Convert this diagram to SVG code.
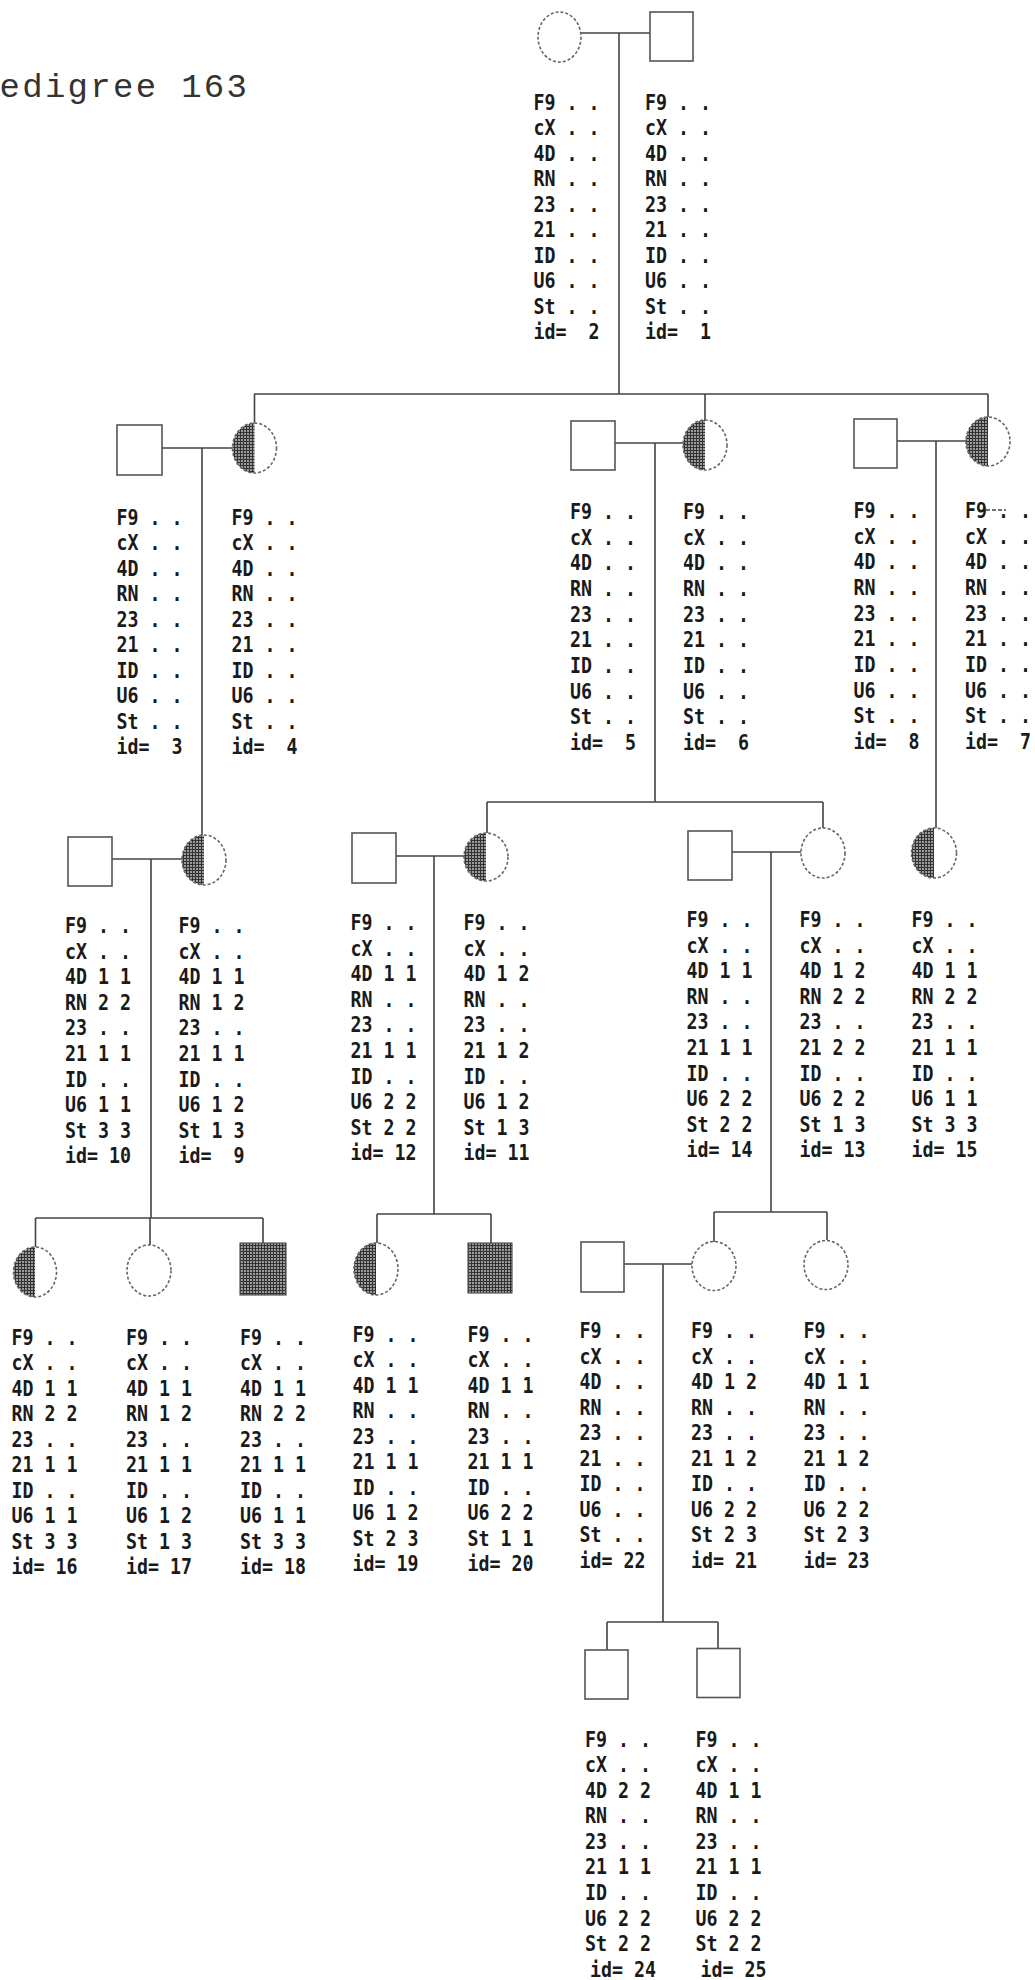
<svg xmlns="http://www.w3.org/2000/svg" width="1035" height="1980" viewBox="0 0 1035 1980">
<defs>
<pattern id="hatch" width="3" height="3" patternUnits="userSpaceOnUse">
<rect width="3" height="3" fill="#9a9a9a"/>
<path d="M0 0.5H3M0.5 0V3" stroke="#333" stroke-width="1"/>
</pattern>
</defs>
<style>
.lb { font-family: "DejaVu Sans Mono", "Liberation Mono", monospace; font-size: 18.3px; font-weight: bold; fill: #1a1a1a; }
.ttl { font-family: "Liberation Mono", "DejaVu Sans Mono", monospace; font-size: 34px; letter-spacing: 2.3px; fill: #333; }
.sq { fill: none; stroke: #555; stroke-width: 1.6; }
.sqf { fill: url(#hatch); stroke: #555; stroke-width: 1.2; }
.ci { fill: none; stroke: #666; stroke-width: 1.6; stroke-dasharray: 3 2; }
.hf { fill: url(#hatch); stroke: none; }
.cn path { stroke: #444; stroke-width: 1.6; fill: none; }
</style>
<rect width="1035" height="1980" fill="#fff"/>
<text class="ttl" x="-0.5" y="96.5">edigree 163</text>

<g id="connectors" class="cn">
<path d="M581 33H650M619 33V394"/>
<path d="M254 394H988M254.5 394V423M705 394V420M988 394V417"/>
<path d="M162 448H232.5M202 448V835"/>
<path d="M615 443H683M655 443V802"/>
<path d="M897 441H966M936 441V828"/>
<path d="M112 859H182M151 859V1218"/>
<path d="M487 802H823M487 802V833M823 802V828"/>
<path d="M396 856H464M434 856V1214"/>
<path d="M732 852H801M771 852V1212"/>
<path d="M35.5 1218H263M35.5 1218V1247M150 1218V1245M263 1218V1243"/>
<path d="M377 1214H491M377 1214V1243M491 1214V1243"/>
<path d="M714 1212H827M714 1212V1242M827 1212V1240"/>
<path d="M624 1264H692M663 1264V1622"/>
<path d="M607 1622H718M607 1622V1650M718 1622V1648.5"/>
</g>

<g id="n2"><ellipse class="ci" cx="559.5" cy="37" rx="21.5" ry="25"/>
<text class="lb" xml:space="preserve" transform="translate(533.5,110) scale(1,1.15)"><tspan x="0" y="0">F9 . .</tspan><tspan x="0" dy="22.17">cX . .</tspan><tspan x="0" dy="22.17">4D . .</tspan><tspan x="0" dy="22.17">RN . .</tspan><tspan x="0" dy="22.17">23 . .</tspan><tspan x="0" dy="22.17">21 . .</tspan><tspan x="0" dy="22.17">ID . .</tspan><tspan x="0" dy="22.17">U6 . .</tspan><tspan x="0" dy="22.17">St . .</tspan><tspan x="0" dy="22.17">id=  2</tspan></text></g>

<g id="n1"><rect class="sq" x="650" y="12" width="43" height="49"/>
<text class="lb" xml:space="preserve" transform="translate(645,110) scale(1,1.15)"><tspan x="0" y="0">F9 . .</tspan><tspan x="0" dy="22.17">cX . .</tspan><tspan x="0" dy="22.17">4D . .</tspan><tspan x="0" dy="22.17">RN . .</tspan><tspan x="0" dy="22.17">23 . .</tspan><tspan x="0" dy="22.17">21 . .</tspan><tspan x="0" dy="22.17">ID . .</tspan><tspan x="0" dy="22.17">U6 . .</tspan><tspan x="0" dy="22.17">St . .</tspan><tspan x="0" dy="22.17">id=  1</tspan></text></g>

<g id="n3"><rect class="sq" x="117" y="425" width="45" height="50"/>
<text class="lb" xml:space="preserve" transform="translate(116.5,525) scale(1,1.15)"><tspan x="0" y="0">F9 . .</tspan><tspan x="0" dy="22.17">cX . .</tspan><tspan x="0" dy="22.17">4D . .</tspan><tspan x="0" dy="22.17">RN . .</tspan><tspan x="0" dy="22.17">23 . .</tspan><tspan x="0" dy="22.17">21 . .</tspan><tspan x="0" dy="22.17">ID . .</tspan><tspan x="0" dy="22.17">U6 . .</tspan><tspan x="0" dy="22.17">St . .</tspan><tspan x="0" dy="22.17">id=  3</tspan></text></g>

<g id="n4"><path class="hf" d="M254.5 423A22 25 0 0 0 254.5 473Z"/><ellipse class="ci" cx="254.5" cy="448" rx="22" ry="25"/>
<text class="lb" xml:space="preserve" transform="translate(231.5,525) scale(1,1.15)"><tspan x="0" y="0">F9 . .</tspan><tspan x="0" dy="22.17">cX . .</tspan><tspan x="0" dy="22.17">4D . .</tspan><tspan x="0" dy="22.17">RN . .</tspan><tspan x="0" dy="22.17">23 . .</tspan><tspan x="0" dy="22.17">21 . .</tspan><tspan x="0" dy="22.17">ID . .</tspan><tspan x="0" dy="22.17">U6 . .</tspan><tspan x="0" dy="22.17">St . .</tspan><tspan x="0" dy="22.17">id=  4</tspan></text></g>

<g id="n5"><rect class="sq" x="571" y="421" width="44" height="49"/>
<text class="lb" xml:space="preserve" transform="translate(570,519) scale(1,1.15)"><tspan x="0" y="0">F9 . .</tspan><tspan x="0" dy="22.3">cX . .</tspan><tspan x="0" dy="22.3">4D . .</tspan><tspan x="0" dy="22.3">RN . .</tspan><tspan x="0" dy="22.3">23 . .</tspan><tspan x="0" dy="22.3">21 . .</tspan><tspan x="0" dy="22.3">ID . .</tspan><tspan x="0" dy="22.3">U6 . .</tspan><tspan x="0" dy="22.3">St . .</tspan><tspan x="0" dy="22.3">id=  5</tspan></text></g>

<g id="n6"><path class="hf" d="M705 420A22 25 0 0 0 705 470Z"/><ellipse class="ci" cx="705" cy="445" rx="22" ry="25"/>
<text class="lb" xml:space="preserve" transform="translate(683,519) scale(1,1.15)"><tspan x="0" y="0">F9 . .</tspan><tspan x="0" dy="22.3">cX . .</tspan><tspan x="0" dy="22.3">4D . .</tspan><tspan x="0" dy="22.3">RN . .</tspan><tspan x="0" dy="22.3">23 . .</tspan><tspan x="0" dy="22.3">21 . .</tspan><tspan x="0" dy="22.3">ID . .</tspan><tspan x="0" dy="22.3">U6 . .</tspan><tspan x="0" dy="22.3">St . .</tspan><tspan x="0" dy="22.3">id=  6</tspan></text></g>

<g id="n8"><rect class="sq" x="854" y="419" width="43" height="49"/>
<text class="lb" xml:space="preserve" transform="translate(853.5,518) scale(1,1.15)"><tspan x="0" y="0">F9 . .</tspan><tspan x="0" dy="22.3">cX . .</tspan><tspan x="0" dy="22.3">4D . .</tspan><tspan x="0" dy="22.3">RN . .</tspan><tspan x="0" dy="22.3">23 . .</tspan><tspan x="0" dy="22.3">21 . .</tspan><tspan x="0" dy="22.3">ID . .</tspan><tspan x="0" dy="22.3">U6 . .</tspan><tspan x="0" dy="22.3">St . .</tspan><tspan x="0" dy="22.3">id=  8</tspan></text></g>

<g id="n7"><path class="hf" d="M988 417A22 24.5 0 0 0 988 466Z"/><ellipse class="ci" cx="988" cy="441.5" rx="22" ry="24.5"/>
<path d="M986 510H1006" stroke="#444" stroke-width="1.5" stroke-dasharray="4 2"/>
<text class="lb" xml:space="preserve" transform="translate(965,518) scale(1,1.15)"><tspan x="0" y="0">F9 . .</tspan><tspan x="0" dy="22.3">cX . .</tspan><tspan x="0" dy="22.3">4D . .</tspan><tspan x="0" dy="22.3">RN . .</tspan><tspan x="0" dy="22.3">23 . .</tspan><tspan x="0" dy="22.3">21 . .</tspan><tspan x="0" dy="22.3">ID . .</tspan><tspan x="0" dy="22.3">U6 . .</tspan><tspan x="0" dy="22.3">St . .</tspan><tspan x="0" dy="22.3">id=  7</tspan></text></g>

<g id="n10"><rect class="sq" x="68" y="837" width="44" height="49"/>
<text class="lb" xml:space="preserve" transform="translate(65,933) scale(1,1.15)"><tspan x="0" y="0">F9 . .</tspan><tspan x="0" dy="22.26">cX . .</tspan><tspan x="0" dy="22.26">4D 1 1</tspan><tspan x="0" dy="22.26">RN 2 2</tspan><tspan x="0" dy="22.26">23 . .</tspan><tspan x="0" dy="22.26">21 1 1</tspan><tspan x="0" dy="22.26">ID . .</tspan><tspan x="0" dy="22.26">U6 1 1</tspan><tspan x="0" dy="22.26">St 3 3</tspan><tspan x="0" dy="22.26">id= 10</tspan></text></g>

<g id="n9"><path class="hf" d="M204 835A22 25 0 0 0 204 885Z"/><ellipse class="ci" cx="204" cy="860" rx="22" ry="25"/>
<text class="lb" xml:space="preserve" transform="translate(178.5,933) scale(1,1.15)"><tspan x="0" y="0">F9 . .</tspan><tspan x="0" dy="22.26">cX . .</tspan><tspan x="0" dy="22.26">4D 1 1</tspan><tspan x="0" dy="22.26">RN 1 2</tspan><tspan x="0" dy="22.26">23 . .</tspan><tspan x="0" dy="22.26">21 1 1</tspan><tspan x="0" dy="22.26">ID . .</tspan><tspan x="0" dy="22.26">U6 1 2</tspan><tspan x="0" dy="22.26">St 1 3</tspan><tspan x="0" dy="22.26">id=  9</tspan></text></g>

<g id="n12"><rect class="sq" x="352" y="833" width="44" height="50"/>
<text class="lb" xml:space="preserve" transform="translate(350.5,930) scale(1,1.15)"><tspan x="0" y="0">F9 . .</tspan><tspan x="0" dy="22.26">cX . .</tspan><tspan x="0" dy="22.26">4D 1 1</tspan><tspan x="0" dy="22.26">RN . .</tspan><tspan x="0" dy="22.26">23 . .</tspan><tspan x="0" dy="22.26">21 1 1</tspan><tspan x="0" dy="22.26">ID . .</tspan><tspan x="0" dy="22.26">U6 2 2</tspan><tspan x="0" dy="22.26">St 2 2</tspan><tspan x="0" dy="22.26">id= 12</tspan></text></g>

<g id="n11"><path class="hf" d="M486 833A22 24 0 0 0 486 881Z"/><ellipse class="ci" cx="486" cy="857" rx="22" ry="24"/>
<text class="lb" xml:space="preserve" transform="translate(463.5,930) scale(1,1.15)"><tspan x="0" y="0">F9 . .</tspan><tspan x="0" dy="22.26">cX . .</tspan><tspan x="0" dy="22.26">4D 1 2</tspan><tspan x="0" dy="22.26">RN . .</tspan><tspan x="0" dy="22.26">23 . .</tspan><tspan x="0" dy="22.26">21 1 2</tspan><tspan x="0" dy="22.26">ID . .</tspan><tspan x="0" dy="22.26">U6 1 2</tspan><tspan x="0" dy="22.26">St 1 3</tspan><tspan x="0" dy="22.26">id= 11</tspan></text></g>

<g id="n14"><rect class="sq" x="688" y="831" width="44" height="49"/>
<text class="lb" xml:space="preserve" transform="translate(686.5,927) scale(1,1.15)"><tspan x="0" y="0">F9 . .</tspan><tspan x="0" dy="22.26">cX . .</tspan><tspan x="0" dy="22.26">4D 1 1</tspan><tspan x="0" dy="22.26">RN . .</tspan><tspan x="0" dy="22.26">23 . .</tspan><tspan x="0" dy="22.26">21 1 1</tspan><tspan x="0" dy="22.26">ID . .</tspan><tspan x="0" dy="22.26">U6 2 2</tspan><tspan x="0" dy="22.26">St 2 2</tspan><tspan x="0" dy="22.26">id= 14</tspan></text></g>

<g id="n13"><ellipse class="ci" cx="823" cy="853" rx="22" ry="25"/>
<text class="lb" xml:space="preserve" transform="translate(799.5,927) scale(1,1.15)"><tspan x="0" y="0">F9 . .</tspan><tspan x="0" dy="22.26">cX . .</tspan><tspan x="0" dy="22.26">4D 1 2</tspan><tspan x="0" dy="22.26">RN 2 2</tspan><tspan x="0" dy="22.26">23 . .</tspan><tspan x="0" dy="22.26">21 2 2</tspan><tspan x="0" dy="22.26">ID . .</tspan><tspan x="0" dy="22.26">U6 2 2</tspan><tspan x="0" dy="22.26">St 1 3</tspan><tspan x="0" dy="22.26">id= 13</tspan></text></g>

<g id="n15"><path class="hf" d="M934 828A22.5 25 0 0 0 934 878Z"/><ellipse class="ci" cx="934" cy="853" rx="22.5" ry="25"/>
<text class="lb" xml:space="preserve" transform="translate(911.5,927) scale(1,1.15)"><tspan x="0" y="0">F9 . .</tspan><tspan x="0" dy="22.26">cX . .</tspan><tspan x="0" dy="22.26">4D 1 1</tspan><tspan x="0" dy="22.26">RN 2 2</tspan><tspan x="0" dy="22.26">23 . .</tspan><tspan x="0" dy="22.26">21 1 1</tspan><tspan x="0" dy="22.26">ID . .</tspan><tspan x="0" dy="22.26">U6 1 1</tspan><tspan x="0" dy="22.26">St 3 3</tspan><tspan x="0" dy="22.26">id= 15</tspan></text></g>

<g id="n16"><path class="hf" d="M35 1247A21.5 25 0 0 0 35 1297Z"/><ellipse class="ci" cx="35" cy="1272" rx="21.5" ry="25"/>
<text class="lb" xml:space="preserve" transform="translate(11.5,1345) scale(1,1.15)"><tspan x="0" y="0">F9 . .</tspan><tspan x="0" dy="22.17">cX . .</tspan><tspan x="0" dy="22.17">4D 1 1</tspan><tspan x="0" dy="22.17">RN 2 2</tspan><tspan x="0" dy="22.17">23 . .</tspan><tspan x="0" dy="22.17">21 1 1</tspan><tspan x="0" dy="22.17">ID . .</tspan><tspan x="0" dy="22.17">U6 1 1</tspan><tspan x="0" dy="22.17">St 3 3</tspan><tspan x="0" dy="22.17">id= 16</tspan></text></g>

<g id="n17"><ellipse class="ci" cx="149" cy="1270.5" rx="22" ry="25.5"/>
<text class="lb" xml:space="preserve" transform="translate(126,1345) scale(1,1.15)"><tspan x="0" y="0">F9 . .</tspan><tspan x="0" dy="22.17">cX . .</tspan><tspan x="0" dy="22.17">4D 1 1</tspan><tspan x="0" dy="22.17">RN 1 2</tspan><tspan x="0" dy="22.17">23 . .</tspan><tspan x="0" dy="22.17">21 1 1</tspan><tspan x="0" dy="22.17">ID . .</tspan><tspan x="0" dy="22.17">U6 1 2</tspan><tspan x="0" dy="22.17">St 1 3</tspan><tspan x="0" dy="22.17">id= 17</tspan></text></g>

<g id="n18"><rect class="sqf" x="240" y="1243" width="46" height="52"/>
<text class="lb" xml:space="preserve" transform="translate(240,1345) scale(1,1.15)"><tspan x="0" y="0">F9 . .</tspan><tspan x="0" dy="22.17">cX . .</tspan><tspan x="0" dy="22.17">4D 1 1</tspan><tspan x="0" dy="22.17">RN 2 2</tspan><tspan x="0" dy="22.17">23 . .</tspan><tspan x="0" dy="22.17">21 1 1</tspan><tspan x="0" dy="22.17">ID . .</tspan><tspan x="0" dy="22.17">U6 1 1</tspan><tspan x="0" dy="22.17">St 3 3</tspan><tspan x="0" dy="22.17">id= 18</tspan></text></g>

<g id="n19"><path class="hf" d="M376 1243A22 26 0 0 0 376 1295Z"/><ellipse class="ci" cx="376" cy="1269" rx="22" ry="26"/>
<text class="lb" xml:space="preserve" transform="translate(352.5,1342) scale(1,1.15)"><tspan x="0" y="0">F9 . .</tspan><tspan x="0" dy="22.17">cX . .</tspan><tspan x="0" dy="22.17">4D 1 1</tspan><tspan x="0" dy="22.17">RN . .</tspan><tspan x="0" dy="22.17">23 . .</tspan><tspan x="0" dy="22.17">21 1 1</tspan><tspan x="0" dy="22.17">ID . .</tspan><tspan x="0" dy="22.17">U6 1 2</tspan><tspan x="0" dy="22.17">St 2 3</tspan><tspan x="0" dy="22.17">id= 19</tspan></text></g>

<g id="n20"><rect class="sqf" x="468" y="1243" width="44" height="50"/>
<text class="lb" xml:space="preserve" transform="translate(467.5,1342) scale(1,1.15)"><tspan x="0" y="0">F9 . .</tspan><tspan x="0" dy="22.17">cX . .</tspan><tspan x="0" dy="22.17">4D 1 1</tspan><tspan x="0" dy="22.17">RN . .</tspan><tspan x="0" dy="22.17">23 . .</tspan><tspan x="0" dy="22.17">21 1 1</tspan><tspan x="0" dy="22.17">ID . .</tspan><tspan x="0" dy="22.17">U6 2 2</tspan><tspan x="0" dy="22.17">St 1 1</tspan><tspan x="0" dy="22.17">id= 20</tspan></text></g>

<g id="n22"><rect class="sq" x="581" y="1242" width="43" height="50"/>
<text class="lb" xml:space="preserve" transform="translate(579.5,1338) scale(1,1.15)"><tspan x="0" y="0">F9 . .</tspan><tspan x="0" dy="22.2">cX . .</tspan><tspan x="0" dy="22.2">4D . .</tspan><tspan x="0" dy="22.2">RN . .</tspan><tspan x="0" dy="22.2">23 . .</tspan><tspan x="0" dy="22.2">21 . .</tspan><tspan x="0" dy="22.2">ID . .</tspan><tspan x="0" dy="22.2">U6 . .</tspan><tspan x="0" dy="22.2">St . .</tspan><tspan x="0" dy="22.2">id= 22</tspan></text></g>

<g id="n21"><ellipse class="ci" cx="714" cy="1266" rx="22" ry="24.5"/>
<text class="lb" xml:space="preserve" transform="translate(691,1338) scale(1,1.15)"><tspan x="0" y="0">F9 . .</tspan><tspan x="0" dy="22.2">cX . .</tspan><tspan x="0" dy="22.2">4D 1 2</tspan><tspan x="0" dy="22.2">RN . .</tspan><tspan x="0" dy="22.2">23 . .</tspan><tspan x="0" dy="22.2">21 1 2</tspan><tspan x="0" dy="22.2">ID . .</tspan><tspan x="0" dy="22.2">U6 2 2</tspan><tspan x="0" dy="22.2">St 2 3</tspan><tspan x="0" dy="22.2">id= 21</tspan></text></g>

<g id="n23"><ellipse class="ci" cx="826" cy="1265" rx="22" ry="24.5"/>
<text class="lb" xml:space="preserve" transform="translate(803.5,1338) scale(1,1.15)"><tspan x="0" y="0">F9 . .</tspan><tspan x="0" dy="22.2">cX . .</tspan><tspan x="0" dy="22.2">4D 1 1</tspan><tspan x="0" dy="22.2">RN . .</tspan><tspan x="0" dy="22.2">23 . .</tspan><tspan x="0" dy="22.2">21 1 2</tspan><tspan x="0" dy="22.2">ID . .</tspan><tspan x="0" dy="22.2">U6 2 2</tspan><tspan x="0" dy="22.2">St 2 3</tspan><tspan x="0" dy="22.2">id= 23</tspan></text></g>

<g id="n24"><rect class="sq" x="585" y="1650" width="43" height="49"/>
<text class="lb" xml:space="preserve" transform="translate(585,1746.5) scale(1,1.15)"><tspan x="0" y="0">F9 . .</tspan><tspan x="0" dy="22.26">cX . .</tspan><tspan x="0" dy="22.26">4D 2 2</tspan><tspan x="0" dy="22.26">RN . .</tspan><tspan x="0" dy="22.26">23 . .</tspan><tspan x="0" dy="22.26">21 1 1</tspan><tspan x="0" dy="22.26">ID . .</tspan><tspan x="0" dy="22.26">U6 2 2</tspan><tspan x="0" dy="22.26">St 2 2</tspan><tspan x="5" dy="22.26">id= 24</tspan></text></g>

<g id="n25"><rect class="sq" x="697" y="1648.5" width="43" height="49"/>
<text class="lb" xml:space="preserve" transform="translate(695.5,1746.5) scale(1,1.15)"><tspan x="0" y="0">F9 . .</tspan><tspan x="0" dy="22.26">cX . .</tspan><tspan x="0" dy="22.26">4D 1 1</tspan><tspan x="0" dy="22.26">RN . .</tspan><tspan x="0" dy="22.26">23 . .</tspan><tspan x="0" dy="22.26">21 1 1</tspan><tspan x="0" dy="22.26">ID . .</tspan><tspan x="0" dy="22.26">U6 2 2</tspan><tspan x="0" dy="22.26">St 2 2</tspan><tspan x="5" dy="22.26">id= 25</tspan></text></g>
</svg>
